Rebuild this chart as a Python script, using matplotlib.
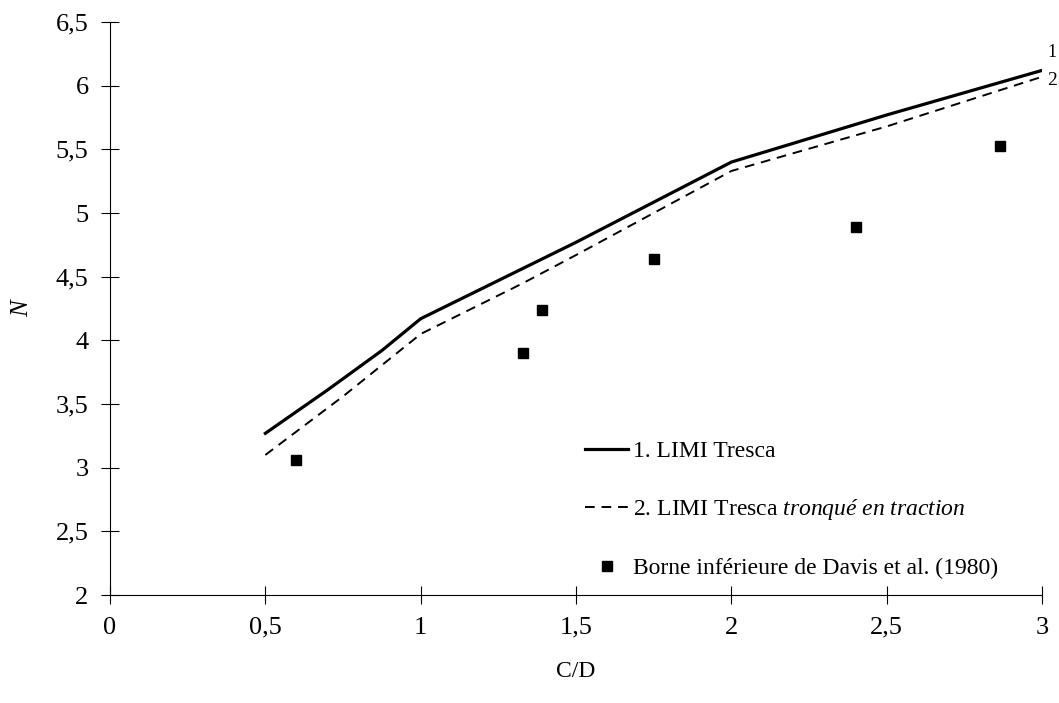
import matplotlib
matplotlib.use('Agg')
import matplotlib.pyplot as plt

plt.rcParams['font.family'] = ['Liberation Serif', 'DejaVu Serif']
plt.rcParams['mathtext.fontset'] = 'custom'
plt.rcParams['mathtext.rm'] = 'Liberation Serif'
plt.rcParams['mathtext.it'] = 'Liberation Serif:italic'

# Values
cd_limi = [0.5, 0.7, 0.875, 1.0, 1.5, 2.0, 2.5, 3.0]
n_tresca = [3.27, 3.61, 3.92, 4.17, 4.77, 5.40, 5.77, 6.12]

cd_trunc = [0.5, 0.75, 1.0, 1.33, 1.5, 2.0, 2.5, 3.0]
n_trunc = [3.10, 3.56, 4.05, 4.45, 4.67, 5.33, 5.68, 6.07]

cd_davis = [0.60, 1.33, 1.39, 1.75, 2.40, 2.865]
n_davis = [3.06, 3.90, 4.24, 4.64, 4.89, 5.53]

x_ticks = [0, 0.5, 1, 1.5, 2, 2.5, 3]
x_labels = ['0', '0,5', '1', '1,5', '2', '2,5', '3']
y_ticks = [2, 2.5, 3, 3.5, 4, 4.5, 5, 5.5, 6, 6.5]
y_labels = ['2', '2,5', '3', '3,5', '4', '4,5', '5', '5,5', '6', '6,5']

fig = plt.figure(figsize=(10.59, 7.03), dpi=100)
ax = fig.add_axes([0.1039, 0.1536, 0.8801, 0.8151])

ax.plot(cd_limi, n_tresca, color='black', lw=2.3, label='1. LIMI Tresca')
ax.plot(cd_trunc, n_trunc, color='black', lw=1.4, dashes=(5, 3.5),
        label='2. LIMI Tresca $\\mathit{tronqu\u00e9\\ en\\ traction}$')
ax.plot(cd_davis, n_davis, linestyle='none', marker='s', markersize=6.5,
        color='black', label='Borne inférieure de Davis et al. (1980)')

# curve numbers at the right end
ax.text(3.017, n_tresca[-1] + 0.14, '1', fontsize=13, ha='left', va='center')
ax.text(3.017, n_trunc[-1] - 0.03, '2', fontsize=14, ha='left', va='center')

ax.set_xlim(0, 3)
ax.set_ylim(2, 6.5)
ax.set_xticks(x_ticks)
ax.set_xticklabels(x_labels)
ax.set_yticks(y_ticks)
ax.set_yticklabels(y_labels)
ax.tick_params(direction='inout', length=13, width=0.8, labelsize=19, pad=9)

for side in ['top', 'right']:
    ax.spines[side].set_visible(False)
for side in ['left', 'bottom']:
    ax.spines[side].set_linewidth(0.8)

ax.set_xlabel('C/D', fontsize=17, labelpad=16)
ax.set_ylabel('N', fontsize=18, style='italic', labelpad=16)

ax.legend(loc='upper left', bbox_to_anchor=(0.51, 0.27),
          frameon=False, fontsize=17, handlelength=1.8, handletextpad=0.2,
          labelspacing=1.5, borderpad=0, borderaxespad=0)

fig.savefig('out.png', dpi=100)
